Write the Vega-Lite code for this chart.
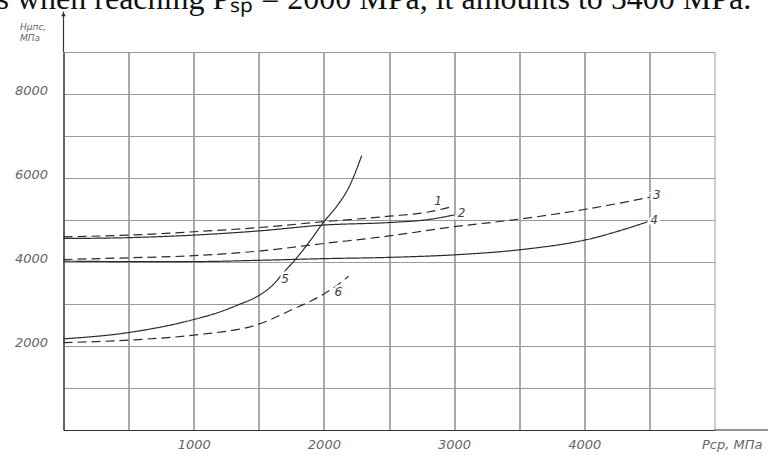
{
  "$schema": "https://vega.github.io/schema/vega-lite/v6.json",
  "width": 651,
  "height": 378,
  "autosize": {"type": "none"},
  "padding": {"left": 63.5, "top": 52, "right": 53.5, "bottom": 25},
  "background": "white",
  "title": {
    "text": "s when reaching Pₛₚ = 2000 MPa, it amounts to 5400 MPa.",
    "anchor": "start",
    "frame": "group",
    "font": "Liberation Serif",
    "fontSize": 32,
    "fontWeight": "normal",
    "color": "#111111",
    "baseline": "alphabetic",
    "offset": 0,
    "dy": 30,
    "dx": -67
  },
  "config": {
    "view": {"stroke": null},
    "axis": {
      "labelFont": "DejaVu Sans",
      "labelFontStyle": "italic",
      "labelFontSize": 13,
      "labelColor": "#666666",
      "titleFont": "DejaVu Sans",
      "titleFontStyle": "italic",
      "titleFontWeight": "normal",
      "titleColor": "#666666",
      "ticks": false,
      "domainColor": "#333333",
      "domainWidth": 1.2,
      "gridWidth": 1,
      "gridOpacity": 1
    }
  },
  "datasets": {
    "curves": [
      {"curve": "1", "P": 0, "H": 4600},
      {"curve": "1", "P": 500, "H": 4640},
      {"curve": "1", "P": 1000, "H": 4720},
      {"curve": "1", "P": 1500, "H": 4820},
      {"curve": "1", "P": 2000, "H": 4960},
      {"curve": "1", "P": 2500, "H": 5090},
      {"curve": "1", "P": 2800, "H": 5190},
      {"curve": "1", "P": 3000, "H": 5330},
      {"curve": "2", "P": 0, "H": 4560},
      {"curve": "2", "P": 500, "H": 4580},
      {"curve": "2", "P": 1000, "H": 4640},
      {"curve": "2", "P": 1500, "H": 4740},
      {"curve": "2", "P": 2000, "H": 4880},
      {"curve": "2", "P": 2500, "H": 4940},
      {"curve": "2", "P": 2800, "H": 5010},
      {"curve": "2", "P": 3000, "H": 5120},
      {"curve": "3", "P": 0, "H": 4060},
      {"curve": "3", "P": 500, "H": 4100},
      {"curve": "3", "P": 1000, "H": 4150},
      {"curve": "3", "P": 1500, "H": 4260},
      {"curve": "3", "P": 2000, "H": 4440},
      {"curve": "3", "P": 2500, "H": 4620},
      {"curve": "3", "P": 3000, "H": 4840},
      {"curve": "3", "P": 3500, "H": 5020},
      {"curve": "3", "P": 4000, "H": 5250},
      {"curve": "3", "P": 4500, "H": 5540},
      {"curve": "4", "P": 0, "H": 4020},
      {"curve": "4", "P": 500, "H": 4010},
      {"curve": "4", "P": 1000, "H": 4010},
      {"curve": "4", "P": 1500, "H": 4040},
      {"curve": "4", "P": 2000, "H": 4080},
      {"curve": "4", "P": 2500, "H": 4110},
      {"curve": "4", "P": 3000, "H": 4170},
      {"curve": "4", "P": 3500, "H": 4290},
      {"curve": "4", "P": 4000, "H": 4520},
      {"curve": "4", "P": 4500, "H": 4970},
      {"curve": "5", "P": 0, "H": 2170},
      {"curve": "5", "P": 500, "H": 2320},
      {"curve": "5", "P": 1000, "H": 2630},
      {"curve": "5", "P": 1200, "H": 2810},
      {"curve": "5", "P": 1350, "H": 2990},
      {"curve": "5", "P": 1500, "H": 3200},
      {"curve": "5", "P": 1600, "H": 3430},
      {"curve": "5", "P": 1700, "H": 3780},
      {"curve": "5", "P": 1800, "H": 4130},
      {"curve": "5", "P": 1900, "H": 4530},
      {"curve": "5", "P": 2000, "H": 4960},
      {"curve": "5", "P": 2100, "H": 5330},
      {"curve": "5", "P": 2200, "H": 5830},
      {"curve": "5", "P": 2290, "H": 6530},
      {"curve": "6", "P": 0, "H": 2080},
      {"curve": "6", "P": 500, "H": 2140},
      {"curve": "6", "P": 1000, "H": 2260},
      {"curve": "6", "P": 1500, "H": 2520},
      {"curve": "6", "P": 1800, "H": 2930},
      {"curve": "6", "P": 1900, "H": 3070},
      {"curve": "6", "P": 2000, "H": 3240},
      {"curve": "6", "P": 2100, "H": 3440},
      {"curve": "6", "P": 2190, "H": 3660}
    ],
    "curveLabels": [
      {"curve": "1", "P": 2876, "H": 5452},
      {"curve": "2", "P": 3058, "H": 5159},
      {"curve": "3", "P": 4556, "H": 5595},
      {"curve": "4", "P": 4535, "H": 5000},
      {"curve": "5", "P": 1701, "H": 3588},
      {"curve": "6", "P": 2111, "H": 3293}
    ]
  },
  "layer": [
    {
      "data": {"name": "curves"},
      "mark": {"type": "line", "interpolate": "monotone", "color": "#2b2b2b", "strokeWidth": 1.2},
      "encoding": {
        "x": {
          "field": "P",
          "type": "quantitative",
          "scale": {"domain": [0, 5000], "nice": false, "zero": false},
          "axis": {
            "values": [0, 500, 1000, 1500, 2000, 2500, 3000, 3500, 4000, 4500, 5000],
            "format": "d",
            "labelExpr": "datum.value >= 1000 && datum.value <= 4000 && datum.value % 1000 === 0 ? datum.label : ''",
            "labelPadding": 8,
            "labelBaseline": "top",
            "grid": true,
            "gridColor": {"condition": {"test": "datum.value === 5000", "value": "#9a9a9a"}, "value": "#555555"},
            "title": "Рср, МПа",
            "titleFontSize": 13,
            "titleAlign": "left",
            "titleAnchor": "start",
            "titleBaseline": "top",
            "titleX": 638,
            "titleY": 8
          }
        },
        "y": {
          "field": "H",
          "type": "quantitative",
          "scale": {"domain": [0, 9000], "nice": false, "zero": false},
          "axis": {
            "values": [0, 1000, 2000, 3000, 4000, 5000, 6000, 7000, 8000, 9000],
            "format": "d",
            "labelExpr": "datum.value > 0 && datum.value < 9000 && datum.value % 2000 === 0 ? datum.label : ''",
            "labelPadding": 16,
            "labelOffset": -4,
            "grid": true,
            "gridColor": "#9a9a9a",
            "title": ["Hμпс,", "МПа"],
            "titleFontSize": 9,
            "titleLineHeight": 11,
            "titleAngle": 0,
            "titleAlign": "left",
            "titleBaseline": "middle",
            "titleX": -44,
            "titleY": -26
          }
        },
        "detail": {"field": "curve"},
        "strokeDash": {
          "field": "curve",
          "type": "nominal",
          "scale": {
            "domain": ["1", "2", "3", "4", "5", "6"],
            "range": [[9, 5], [1, 0], [9, 5], [1, 0], [1, 0], [9, 5]]
          },
          "legend": null
        }
      }
    },
    {
      "data": {"values": [{}]},
      "mark": {"type": "rule", "color": "#333333", "strokeWidth": 1.2},
      "encoding": {
        "x": {"datum": 0, "type": "quantitative"},
        "y": {"datum": 9000, "type": "quantitative"},
        "y2": {"datum": 9960}
      }
    },
    {
      "data": {"values": [{}]},
      "mark": {"type": "point", "shape": "triangle-up", "filled": true, "color": "#333333", "size": 22, "opacity": 1},
      "encoding": {
        "x": {"datum": 0, "type": "quantitative"},
        "y": {"datum": 9900, "type": "quantitative"}
      }
    },
    {
      "data": {"values": [{}]},
      "mark": {"type": "rule", "color": "#333333", "strokeWidth": 1.2},
      "encoding": {
        "x": {"datum": 5000, "type": "quantitative"},
        "x2": {"datum": 5420},
        "y": {"datum": 0, "type": "quantitative"}
      }
    },
    {
      "data": {"name": "curveLabels"},
      "mark": {"type": "text", "font": "DejaVu Sans", "fontStyle": "italic", "fontSize": 12, "stroke": "white", "strokeWidth": 5, "fill": "white"},
      "encoding": {
        "x": {"field": "P", "type": "quantitative"},
        "y": {"field": "H", "type": "quantitative"},
        "text": {"field": "curve"}
      }
    },
    {
      "data": {"name": "curveLabels"},
      "mark": {"type": "text", "font": "DejaVu Sans", "fontStyle": "italic", "fontSize": 12, "color": "#444444"},
      "encoding": {
        "x": {"field": "P", "type": "quantitative"},
        "y": {"field": "H", "type": "quantitative"},
        "text": {"field": "curve"}
      }
    }
  ]
}
